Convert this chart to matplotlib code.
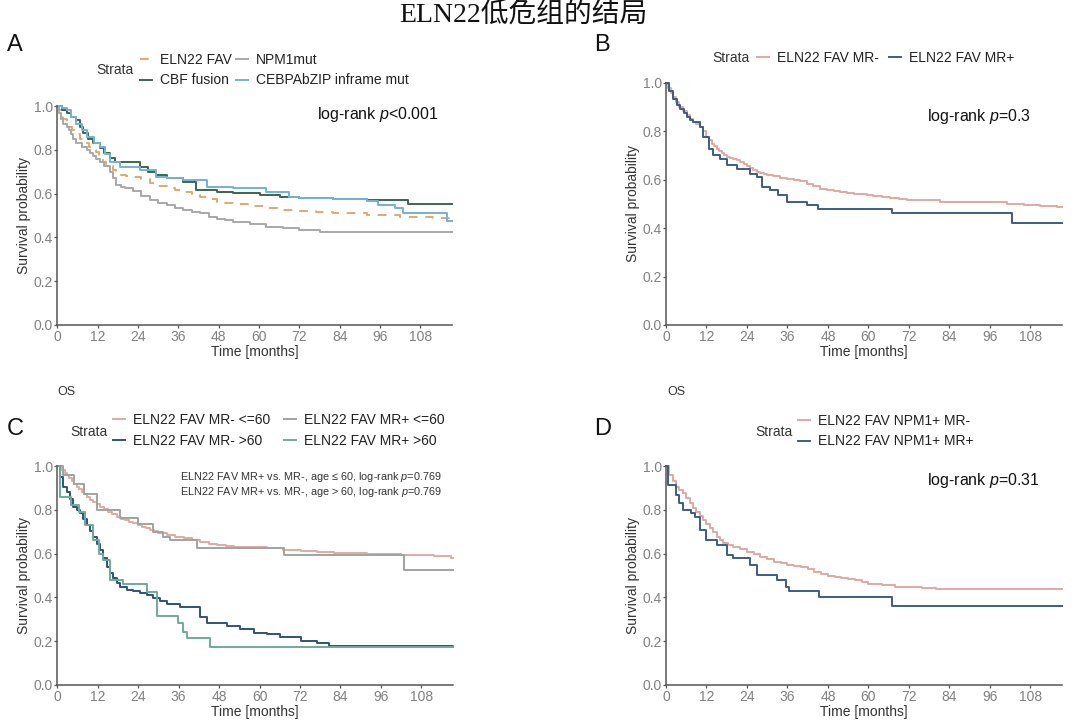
import matplotlib
matplotlib.use("Agg")
import matplotlib.pyplot as plt

# ---------------- data ----------------
x_ticks = [0, 12, 24, 36, 48, 60, 72, 84, 96, 108]
y_ticks = [0.0, 0.2, 0.4, 0.6, 0.8, 1.0]

# Panel A
a_labels = ["ELN22 FAV", "NPM1mut", "CBF fusion", "CEBPAbZIP inframe mut"]
a_fav_t = [0, 0.5, 1, 1.8, 2.8, 3.6, 4.5, 5.5, 6.7, 7.5, 8.5, 9.5, 10.7, 11.5, 12.5, 13.7, 14.5, 15.5, 16.6, 17.5,
           18.6, 20.5, 22.6, 25, 27.6, 30, 32.5, 35, 37.5, 40, 42.4, 45, 47.4, 50, 52.3, 57, 62, 67, 72, 77, 82,
           92, 102, 111.8, 117.4]
a_fav_s = [1.0, 0.98, 0.96, 0.94, 0.92, 0.905, 0.89, 0.87, 0.85, 0.84, 0.83, 0.815, 0.80, 0.79, 0.775, 0.745,
           0.735, 0.725, 0.708, 0.695, 0.685, 0.681, 0.677, 0.665, 0.647, 0.635, 0.624, 0.615, 0.609, 0.598,
           0.586, 0.575, 0.563, 0.558, 0.553, 0.542, 0.533, 0.527, 0.52, 0.515, 0.51, 0.502, 0.495, 0.49, 0.487]
a_npm_t = [0, 0.5, 1, 1.8, 2.8, 3.4, 4, 4.8, 5.7, 7.2, 8.7, 9.6, 10.5, 11.6, 12.7, 14, 15.7, 16.6, 17.6, 18.8,
           20, 22.6, 25, 27.6, 30, 32.5, 35, 37.5, 40, 42.4, 45, 47.4, 50, 52.3, 57.3, 62, 67, 72, 78, 117.4]
a_npm_s = [1.0, 0.97, 0.94, 0.92, 0.906, 0.89, 0.87, 0.85, 0.83, 0.815, 0.80, 0.785, 0.77, 0.758, 0.746, 0.725,
           0.70, 0.67, 0.64, 0.632, 0.625, 0.61, 0.59, 0.57, 0.558, 0.548, 0.535, 0.525, 0.517, 0.51, 0.495, 0.483,
           0.478, 0.472, 0.46, 0.449, 0.441, 0.434, 0.426, 0.426]
a_cbf_t = [0, 1.5, 2.8, 4.2, 5.7, 6.7, 7.7, 9, 10.7, 12.7, 14, 15.7, 17.1, 20.6, 24.6, 27, 29.5, 32.5, 37.5, 41.4,
           47.4, 52.3, 60.3, 66.2, 72, 82, 92, 100.9, 104.4, 117.4]
a_cbf_s = [1.0, 0.98, 0.966, 0.95, 0.936, 0.905, 0.875, 0.85, 0.83, 0.807, 0.785, 0.761, 0.746, 0.746, 0.723,
           0.70, 0.685, 0.67, 0.654, 0.616, 0.609, 0.601, 0.594, 0.583, 0.578, 0.574, 0.571, 0.571, 0.553, 0.553]
a_ceb_t = [0, 1.5, 2.8, 4.2, 5.7, 7.2, 8.7, 11, 12.7, 14.2, 15.7, 18.6, 24.6, 29.5, 32.5, 37.5, 44.4, 52.3, 62.2,
           69, 72, 82, 92, 95.4, 100.4, 102.9, 115.8, 117.4]
a_ceb_s = [1.0, 0.99, 0.98, 0.95, 0.92, 0.89, 0.86, 0.83, 0.814, 0.78, 0.746, 0.72, 0.708, 0.677, 0.67, 0.662,
           0.632, 0.624, 0.609, 0.586, 0.581, 0.574, 0.568, 0.548, 0.533, 0.51, 0.476, 0.476]

# Panel B
b_labels = ["ELN22 FAV MR-", "ELN22 FAV MR+"]
b_neg_t = [0, 0.7, 1.4, 2.2, 3.1, 4, 5, 6.1, 7, 8, 9, 10.1, 11, 12, 12.8, 13.5, 14.2, 15, 15.8, 16.5, 17.2, 18,
           19, 20, 21, 22, 23, 24, 25, 25.9, 27, 28, 29, 29.9, 31.8, 33.8, 35.8, 37.8, 39.7, 41.7, 43.7, 45.7,
           47.7, 49.7, 51.6, 53.6, 55.6, 57.6, 59.5, 61.5, 64, 66.5, 69, 71.4, 76.4, 81.3, 91.2, 101, 106, 111,
           116, 117.4]
b_neg_s = [1.0, 0.98, 0.96, 0.942, 0.92, 0.90, 0.883, 0.866, 0.853, 0.84, 0.83, 0.818, 0.80, 0.777, 0.763, 0.75,
           0.74, 0.729, 0.72, 0.71, 0.702, 0.694, 0.69, 0.685, 0.68, 0.674, 0.664, 0.655, 0.647, 0.639, 0.633,
           0.628, 0.623, 0.619, 0.614, 0.609, 0.604, 0.601, 0.594, 0.584, 0.574, 0.564, 0.558, 0.554, 0.55,
           0.546, 0.543, 0.54, 0.536, 0.532, 0.529, 0.526, 0.522, 0.518, 0.515, 0.509, 0.509, 0.502, 0.495,
           0.492, 0.488, 0.486]
b_pos_t = [0, 1, 2.2, 3.2, 4.2, 5.2, 6.1, 7.1, 8.1, 10.1, 11.1, 12.6, 14, 16, 18, 21, 24.9, 26.9, 28.4, 30.9,
           33.3, 35.8, 41.7, 45.2, 67, 102.6, 117.4]
b_pos_s = [1.0, 0.969, 0.935, 0.91, 0.893, 0.875, 0.859, 0.848, 0.838, 0.818, 0.777, 0.729, 0.701, 0.687, 0.66,
           0.646, 0.625, 0.612, 0.57, 0.557, 0.536, 0.509, 0.495, 0.481, 0.463, 0.422, 0.422]

# Panel C
c_labels = ["ELN22 FAV MR- <=60", "ELN22 FAV MR- >60", "ELN22 FAV MR+ <=60", "ELN22 FAV MR+ >60"]
c_neg_le_t = [0, 0.8, 1.5, 2.2, 2.8, 3.5, 4.3, 5, 5.7, 6.5, 7.2, 8, 8.7, 9.7, 10.7, 11.7, 12.7, 13.8, 15, 16.3,
              17.6, 18.8, 20, 21.3, 22.6, 23.8, 25, 26.3, 27.6, 28.8, 30, 32.5, 35, 37.5, 40, 42.4, 45, 47.4, 50,
              52.3, 57, 62.2, 67, 72.2, 77, 82.1, 92, 101.9, 111.8, 116.7, 117.4]
c_neg_le_s = [1.0, 0.99, 0.98, 0.97, 0.959, 0.945, 0.93, 0.918, 0.906, 0.893, 0.88, 0.87, 0.86, 0.847, 0.835,
              0.825, 0.814, 0.802, 0.79, 0.78, 0.769, 0.76, 0.752, 0.745, 0.738, 0.73, 0.722, 0.715, 0.708, 0.701,
              0.695, 0.685, 0.677, 0.67, 0.662, 0.654, 0.645, 0.639, 0.635, 0.632, 0.628, 0.624, 0.618, 0.612,
              0.608, 0.604, 0.598, 0.594, 0.589, 0.581, 0.581]
c_pos_le_t = [0, 1.8, 5, 8, 11.7, 18.6, 24, 28.5, 31.5, 33.5, 41.4, 67.2, 102.9, 117.4]
c_pos_le_s = [1.0, 0.96, 0.92, 0.87, 0.80, 0.761, 0.735, 0.70, 0.677, 0.662, 0.624, 0.594, 0.525, 0.525]
c_neg_gt_t = [0, 0.8, 1.8, 2.8, 3.8, 4.8, 5.8, 6.7, 7.7, 8.7, 9.7, 10.7, 11.7, 12.7, 13.7, 14.7, 15.7, 16.6, 17.6,
              18.6, 20.6, 22.6, 24.6, 26.5, 28.5, 30.5, 32.5, 36.5, 40.4, 42.4, 44.4, 50.3, 54.3, 58.3, 62.2,
              66.2, 72.2, 77.1, 80.6, 117.4]
c_neg_gt_s = [1.0, 0.951, 0.906, 0.883, 0.85, 0.814, 0.80, 0.784, 0.757, 0.731, 0.705, 0.677, 0.645, 0.616,
              0.578, 0.54, 0.512, 0.487, 0.465, 0.449, 0.434, 0.43, 0.422, 0.41, 0.396, 0.383, 0.37, 0.358, 0.355,
              0.312, 0.282, 0.269, 0.254, 0.239, 0.233, 0.218, 0.202, 0.193, 0.178, 0.172]
c_pos_gt_t = [0, 0.8, 4, 6.5, 8.2, 10.6, 12.5, 13.6, 15.7, 19.5, 26.7, 29.7, 35.9, 37.3, 38.5, 45.4, 117.4]
c_pos_gt_s = [1.0, 0.86, 0.82, 0.79, 0.73, 0.662, 0.60, 0.57, 0.48, 0.461, 0.425, 0.315, 0.283, 0.242, 0.213,
              0.172, 0.172]

# Panel D
d_labels = ["ELN22 FAV NPM1+ MR-", "ELN22 FAV NPM1+ MR+"]
d_neg_t = [0, 1, 2, 3, 4, 5, 6, 7, 8, 9, 10, 11, 12, 13, 14, 15, 16, 17, 18.5, 20, 22, 24, 26, 28, 30, 32, 34, 36,
           38, 40, 42, 44, 46, 48, 50, 52, 54, 56, 58, 60, 64, 68, 72, 76, 80, 117.4]
d_neg_s = [1.0, 0.959, 0.93, 0.906, 0.89, 0.875, 0.852, 0.83, 0.81, 0.791, 0.772, 0.753, 0.735, 0.716, 0.697,
           0.677, 0.662, 0.647, 0.64, 0.632, 0.62, 0.609, 0.598, 0.586, 0.575, 0.563, 0.555, 0.548, 0.545, 0.54,
           0.528, 0.517, 0.507, 0.498, 0.493, 0.487, 0.483, 0.479, 0.47, 0.461, 0.457, 0.449, 0.449, 0.441,
           0.437, 0.437]
d_pos_t = [0, 0.5, 3, 4, 5, 7.5, 8.5, 10, 12, 15, 18, 20, 25, 27, 33, 35.5, 36.5, 45.5, 67, 117.4]
d_pos_s = [1.0, 0.913, 0.868, 0.83, 0.80, 0.784, 0.769, 0.708, 0.662, 0.639, 0.594, 0.578, 0.548, 0.502, 0.479,
           0.449, 0.431, 0.403, 0.361, 0.361]

title = "ELN22低危组的结局"

# ---------------- style ----------------
plt.rcParams['font.family'] = ['Liberation Sans', 'Noto Sans CJK SC']
plt.rcParams['mathtext.fontset'] = 'custom'
plt.rcParams['mathtext.rm'] = 'Liberation Sans'
plt.rcParams['mathtext.it'] = 'Liberation Sans:italic'

W, H = 1080, 721
fig = plt.figure(figsize=(W / 100, H / 100), dpi=100)
fig.patch.set_facecolor('white')


def fx(x):
    return x / W


def fy(y):
    return 1 - y / H


def make_ax(left, top, right, bottom):
    ax = fig.add_axes([fx(left), fy(bottom), (right - left) / W, (bottom - top) / H])
    ax.set_xlim(0, 117.4)
    ax.set_ylim(0, 1.0)
    for s in ['top', 'right']:
        ax.spines[s].set_visible(False)
    for s in ['left', 'bottom']:
        ax.spines[s].set_color('#555555')
        ax.spines[s].set_linewidth(1.1)
    ax.set_xticks(x_ticks)
    ax.set_yticks(y_ticks)
    ax.set_yticklabels([f"{v:.1f}" for v in y_ticks])
    ax.tick_params(axis='both', length=2.5, width=0.9, color='#555555', labelcolor='#808080', labelsize=10)
    ax.tick_params(axis='x', pad=1.0)
    ax.tick_params(axis='y', pad=0.6)
    ax.set_xlabel("Time [months]", fontsize=10, color='#333333', labelpad=0.5)
    ax.set_ylabel("Survival probability", fontsize=10, color='#333333', labelpad=2.0)
    return ax


LW = 1.4


def curve(ax, t, s, color, **kw):
    (ln,) = ax.step(t, s, where='post', color=color, lw=LW, clip_on=False, **kw)
    return ln


def legend(ax, handles, labels, x, y, ncol, colsp, hl=0.85):
    ax.legend(handles, labels, loc='center left', bbox_to_anchor=(fx(x), fy(y)),
              bbox_transform=fig.transFigure, ncol=ncol, frameon=False, borderpad=0,
              borderaxespad=0, handlelength=hl, handletextpad=0.6, columnspacing=colsp,
              labelspacing=0.5, fontsize=10, labelcolor='#222222')


# title
fig.text(fx(523), fy(16), title, ha='center', va='center', fontsize=20,
         family=['Liberation Serif', 'Noto Sans CJK SC'], color='#111111')

# ---------------- Panel A ----------------
axA = make_ax(57.3, 106, 452, 325)
hA_fav = curve(axA, a_fav_t, a_fav_s, '#DDAA72', dashes=(4.5, 4))
hA_npm = curve(axA, a_npm_t, a_npm_s, '#A8A8A8')
hA_cbf = curve(axA, a_cbf_t, a_cbf_s, '#3B6650')
hA_ceb = curve(axA, a_ceb_t, a_ceb_s, '#72B2D6')
legend(axA, [hA_fav, hA_cbf, hA_npm, hA_ceb], [a_labels[0], a_labels[2], a_labels[1], a_labels[3]],
       140, 70, 2, 0.3)
fig.text(fx(96), fy(70), "Strata", fontsize=10, color='#333333', va='center', ha='left')
fig.text(fx(317), fy(115), "log-rank $p$<0.001", fontsize=11.5, color='#111111', va='center', ha='left')
fig.text(fx(7), fy(45), "A", fontsize=17, va='center', ha='left', color='#111111')

# ---------------- Panel B ----------------
axB = make_ax(666, 83, 1062, 325)
hB_neg = curve(axB, b_neg_t, b_neg_s, '#DFA9A2')
hB_pos = curve(axB, b_pos_t, b_pos_s, '#3E5C87')
legend(axB, [hB_neg, hB_pos], b_labels, 757, 58, 2, 0.7)
fig.text(fx(712), fy(58), "Strata", fontsize=10, color='#333333', va='center', ha='left')
fig.text(fx(927), fy(116), "log-rank $p$=0.3", fontsize=11.5, color='#111111', va='center', ha='left')
fig.text(fx(594), fy(45), "B", fontsize=17, va='center', ha='left', color='#111111')

# ---------------- Panel C ----------------
axC = make_ax(57.3, 466, 453, 685)
hC1 = curve(axC, c_neg_le_t, c_neg_le_s, '#E0AAA2')
hC3 = curve(axC, c_pos_le_t, c_pos_le_s, '#A0A3A0')
hC2 = curve(axC, c_neg_gt_t, c_neg_gt_s, '#2F5478')
hC4 = curve(axC, c_pos_gt_t, c_pos_gt_s, '#6FAA9A')
legend(axC, [hC1, hC2, hC3, hC4], c_labels, 113, 430.5, 2, 1.0)
fig.text(fx(70), fy(432), "Strata", fontsize=10, color='#333333', va='center', ha='left')
fig.text(fx(180), fy(477), "ELN22 FAV MR+ vs. MR-, age ≤ 60, log-rank $p$=0.769", fontsize=7.8,
         color='#333333', va='center', ha='left')
fig.text(fx(180), fy(492), "ELN22 FAV MR+ vs. MR-, age > 60, log-rank $p$=0.769", fontsize=7.8,
         color='#333333', va='center', ha='left')
fig.text(fx(57), fy(392), "OS", fontsize=9, color='#333333', va='center', ha='left')
fig.text(fx(7), fy(429), "C", fontsize=17, va='center', ha='left', color='#111111')

# ---------------- Panel D ----------------
axD = make_ax(666, 466, 1062, 685)
hD_neg = curve(axD, d_neg_t, d_neg_s, '#DFA9A2')
hD_pos = curve(axD, d_pos_t, d_pos_s, '#3E5C87')
legend(axD, [hD_neg, hD_pos], d_labels, 798, 431, 1, 0.5)
fig.text(fx(755), fy(432), "Strata", fontsize=10, color='#333333', va='center', ha='left')
fig.text(fx(927), fy(480), "log-rank $p$=0.31", fontsize=11.5, color='#111111', va='center', ha='left')
fig.text(fx(667), fy(392), "OS", fontsize=9, color='#333333', va='center', ha='left')
fig.text(fx(594), fy(429), "D", fontsize=17, va='center', ha='left', color='#111111')

fig.savefig("out.png", dpi=100, facecolor='white')
